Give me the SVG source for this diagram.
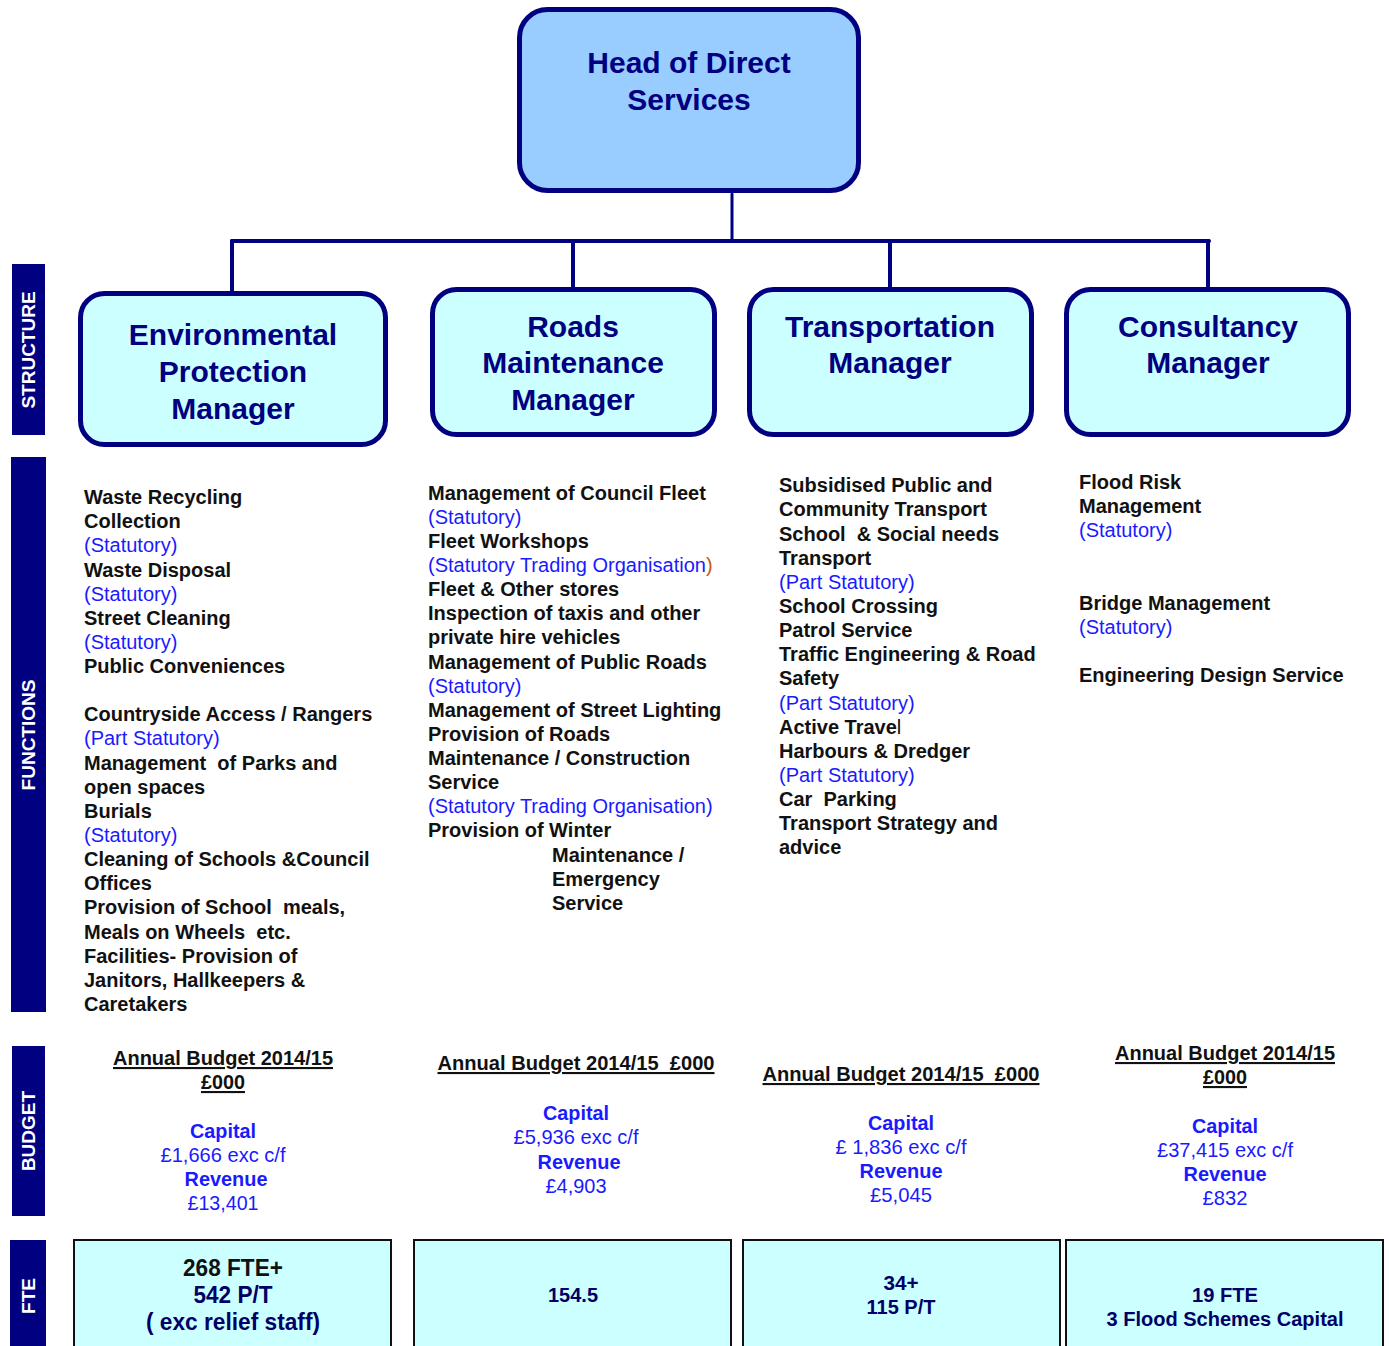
<svg xmlns="http://www.w3.org/2000/svg" width="1389" height="1346" viewBox="0 0 1389 1346">
<style>
.mgr{fill:#ccffff;stroke:#000080;stroke-width:5}
.mt{font-family:"Liberation Sans",Arial,sans-serif;font-weight:bold;font-size:30px;fill:#000080;text-anchor:middle}
.side{fill:#000080}
.st{font-family:"Liberation Sans",Arial,sans-serif;font-weight:bold;font-size:19px;fill:#fff;text-anchor:middle}
.f{font-family:"Liberation Sans",Arial,sans-serif;font-size:20px}
.b{font-weight:bold;fill:#111}
.s{fill:#1a1aff}
.bh{font-family:"Liberation Sans Narrow","Liberation Sans",Arial,sans-serif;font-weight:bold;font-size:21px;fill:#111;text-anchor:middle;text-decoration:underline}
.bc{font-family:"Liberation Sans Narrow","Liberation Sans",Arial,sans-serif;font-weight:bold;font-size:21px;fill:#1a1aff;text-anchor:middle}
.bv{font-family:"Liberation Sans Narrow","Liberation Sans",Arial,sans-serif;font-size:21px;fill:#1a1aff;text-anchor:middle}
.fte{fill:#ccffff;stroke:#111;stroke-width:2}
.ft{font-family:"Liberation Sans Narrow","Liberation Sans",Arial,sans-serif;font-weight:bold;font-size:23px;fill:#000066;text-anchor:middle}
.ln{stroke:#000080;fill:none;stroke-linecap:round}
</style>
<rect width="1389" height="1346" fill="#fff"/>
<g id="connectors">
<line class="ln" x1="732" y1="194" x2="732" y2="241" stroke-width="3"/>
<line class="ln" x1="232" y1="241" x2="1209" y2="241" stroke-width="4"/>
<line class="ln" x1="232" y1="241" x2="232" y2="297" stroke-width="4"/>
<line class="ln" x1="573" y1="241" x2="573" y2="287" stroke-width="4"/>
<line class="ln" x1="890" y1="241" x2="890" y2="287" stroke-width="4"/>
<line class="ln" x1="1208" y1="241" x2="1208" y2="287" stroke-width="4"/>
</g>
<g id="head">
<rect x="519.5" y="9.5" width="339" height="181" rx="28" fill="#99ccff" stroke="#000080" stroke-width="5"/>
<text class="mt" x="689" y="73">Head of Direct</text>
<text class="mt" x="689" y="110">Services</text>
</g>
<g id="env-manager">
<rect class="mgr" x="80.5" y="293.5" width="305" height="151" rx="24"/>
<text class="mt" x="233" y="345">Environmental</text>
<text class="mt" x="233" y="382">Protection</text>
<text class="mt" x="233" y="419">Manager</text>
</g>
<g id="roads-manager">
<rect class="mgr" x="432.5" y="289.5" width="282" height="145" rx="24"/>
<text class="mt" x="573" y="337">Roads</text>
<text class="mt" x="573" y="373">Maintenance</text>
<text class="mt" x="573" y="410">Manager</text>
</g>
<g id="transport-manager">
<rect class="mgr" x="749.5" y="289.5" width="282" height="145" rx="24"/>
<text class="mt" x="890" y="337">Transportation</text>
<text class="mt" x="890" y="373">Manager</text>
</g>
<g id="consultancy-manager">
<rect class="mgr" x="1066.5" y="289.5" width="282" height="145" rx="24"/>
<text class="mt" x="1208" y="337">Consultancy</text>
<text class="mt" x="1208" y="373">Manager</text>
</g>
<g id="side-labels">
<rect class="side" x="12" y="264" width="33" height="171"/>
<text class="st" transform="translate(35,350) rotate(-90)">STRUCTURE</text>
<rect class="side" x="11" y="457" width="35" height="555"/>
<text class="st" transform="translate(35,735) rotate(-90)">FUNCTIONS</text>
<rect class="side" x="12" y="1046" width="33" height="170"/>
<text class="st" transform="translate(35,1131) rotate(-90)">BUDGET</text>
<rect class="side" x="10" y="1240" width="36" height="110"/>
<text class="st" transform="translate(35,1296) rotate(-90)">FTE</text>
</g>
<g id="functions-env" class="f">
<text x="84" y="504" class="b">Waste Recycling</text>
<text x="84" y="528" class="b">Collection</text>
<text x="84" y="552" class="s">(Statutory)</text>
<text x="84" y="577" class="b">Waste Disposal</text>
<text x="84" y="601" class="s">(Statutory)</text>
<text x="84" y="625" class="b">Street Cleaning</text>
<text x="84" y="649" class="s">(Statutory)</text>
<text x="84" y="673" class="b">Public Conveniences</text>
<text x="84" y="721" class="b">Countryside Access / Rangers</text>
<text x="84" y="745" class="s">(Part Statutory)</text>
<text x="84" y="770" class="b" xml:space="preserve">Management  of Parks and</text>
<text x="84" y="794" class="b">open spaces</text>
<text x="84" y="818" class="b">Burials</text>
<text x="84" y="842" class="s">(Statutory)</text>
<text x="84" y="866" class="b">Cleaning of Schools &amp;Council</text>
<text x="84" y="890" class="b">Offices</text>
<text x="84" y="914" class="b" xml:space="preserve">Provision of School  meals,</text>
<text x="84" y="939" class="b" xml:space="preserve">Meals on Wheels  etc.</text>
<text x="84" y="963" class="b">Facilities- Provision of</text>
<text x="84" y="987" class="b">Janitors, Hallkeepers &amp;</text>
<text x="84" y="1011" class="b">Caretakers</text>
</g>
<g id="functions-roads" class="f">
<text x="428" y="500" class="b">Management of Council Fleet</text>
<text x="428" y="524" class="s">(Statutory)</text>
<text x="428" y="548" class="b">Fleet Workshops</text>
<text x="428" y="572" class="s">(Statutory Trading Organisation<tspan fill="#c55a11">)</tspan></text>
<text x="428" y="596" class="b">Fleet &amp; Other stores</text>
<text x="428" y="620" class="b">Inspection of taxis and other</text>
<text x="428" y="644" class="b">private hire vehicles</text>
<text x="428" y="669" class="b">Management of Public Roads</text>
<text x="428" y="693" class="s">(Statutory)</text>
<text x="428" y="717" class="b">Management of Street Lighting</text>
<text x="428" y="741" class="b">Provision of Roads</text>
<text x="428" y="765" class="b">Maintenance / Construction</text>
<text x="428" y="789" class="b">Service</text>
<text x="428" y="813" class="s">(Statutory Trading Organisation)</text>
<text x="428" y="837" class="b">Provision of Winter</text>
<text x="552" y="862" class="b">Maintenance /</text>
<text x="552" y="886" class="b">Emergency</text>
<text x="552" y="910" class="b">Service</text>
</g>
<g id="functions-transport" class="f">
<text x="779" y="492" class="b">Subsidised Public and</text>
<text x="779" y="516" class="b">Community Transport</text>
<text x="779" y="541" class="b" xml:space="preserve">School  &amp; Social needs</text>
<text x="779" y="565" class="b">Transport</text>
<text x="779" y="589" class="s">(Part Statutory)</text>
<text x="779" y="613" class="b">School Crossing</text>
<text x="779" y="637" class="b">Patrol Service</text>
<text x="779" y="661" class="b">Traffic Engineering &amp; Road</text>
<text x="779" y="685" class="b">Safety</text>
<text x="779" y="710" class="s">(Part Statutory)</text>
<text x="779" y="734" class="b">Active Trave<tspan font-weight="normal">l</tspan></text>
<text x="779" y="758" class="b">Harbours &amp; Dredger</text>
<text x="779" y="782" class="s">(Part Statutory)</text>
<text x="779" y="806" class="b" xml:space="preserve">Car  Parking</text>
<text x="779" y="830" class="b">Transport Strategy and</text>
<text x="779" y="854" class="b">advice</text>
</g>
<g id="functions-consultancy" class="f">
<text x="1079" y="489" class="b">Flood Risk</text>
<text x="1079" y="513" class="b">Management</text>
<text x="1079" y="537" class="s">(Statutory)</text>
<text x="1079" y="610" class="b">Bridge Management</text>
<text x="1079" y="634" class="s">(Statutory)</text>
<text x="1079" y="682" class="b">Engineering Design Service</text>
</g>
<g id="budget-env">
<text class="bh" x="223" y="1065" textLength="220" lengthAdjust="spacingAndGlyphs">Annual Budget 2014/15</text>
<text class="bh" x="223" y="1089" textLength="44" lengthAdjust="spacingAndGlyphs">£000</text>
<text class="bc" x="223" y="1138" textLength="66" lengthAdjust="spacingAndGlyphs">Capital</text>
<text class="bv" x="223" y="1162" textLength="125" lengthAdjust="spacingAndGlyphs">£1,666 exc c/f</text>
<text class="bc" x="226" y="1186" textLength="83" lengthAdjust="spacingAndGlyphs">Revenue</text>
<text class="bv" x="223" y="1210" textLength="71" lengthAdjust="spacingAndGlyphs">£13,401</text>
</g>
<g id="budget-roads">
<text class="bh" x="576" y="1070" textLength="277" lengthAdjust="spacingAndGlyphs" xml:space="preserve">Annual Budget 2014/15  £000</text>
<text class="bc" x="576" y="1120" textLength="66" lengthAdjust="spacingAndGlyphs">Capital</text>
<text class="bv" x="576" y="1144" textLength="125" lengthAdjust="spacingAndGlyphs">£5,936 exc c/f</text>
<text class="bc" x="579" y="1169" textLength="83" lengthAdjust="spacingAndGlyphs">Revenue</text>
<text class="bv" x="576" y="1193" textLength="61" lengthAdjust="spacingAndGlyphs">£4,903</text>
</g>
<g id="budget-transport">
<text class="bh" x="901" y="1081" textLength="277" lengthAdjust="spacingAndGlyphs" xml:space="preserve">Annual Budget 2014/15  £000</text>
<text class="bc" x="901" y="1130" textLength="66" lengthAdjust="spacingAndGlyphs">Capital</text>
<text class="bv" x="901" y="1154" textLength="131" lengthAdjust="spacingAndGlyphs">£ 1,836 exc c/f</text>
<text class="bc" x="901" y="1178" textLength="83" lengthAdjust="spacingAndGlyphs">Revenue</text>
<text class="bv" x="901" y="1202" textLength="62" lengthAdjust="spacingAndGlyphs">£5,045</text>
</g>
<g id="budget-consultancy">
<text class="bh" x="1225" y="1060" textLength="220" lengthAdjust="spacingAndGlyphs">Annual Budget 2014/15</text>
<text class="bh" x="1225" y="1084" textLength="44" lengthAdjust="spacingAndGlyphs">£000</text>
<text class="bc" x="1225" y="1133" textLength="66" lengthAdjust="spacingAndGlyphs">Capital</text>
<text class="bv" x="1225" y="1157" textLength="136" lengthAdjust="spacingAndGlyphs">£37,415 exc c/f</text>
<text class="bc" x="1225" y="1181" textLength="83" lengthAdjust="spacingAndGlyphs">Revenue</text>
<text class="bv" x="1225" y="1205" textLength="45" lengthAdjust="spacingAndGlyphs">£832</text>
</g>
<g id="fte-env">
<rect class="fte" x="74" y="1240" width="317" height="120"/>
<text class="ft" x="233" y="1276" fill="#111" style="fill:#111" textLength="100" lengthAdjust="spacingAndGlyphs">268 FTE+</text>
<text class="ft" x="233" y="1303" textLength="79" lengthAdjust="spacingAndGlyphs">542 P/T</text>
<text class="ft" x="233" y="1330" textLength="174" lengthAdjust="spacingAndGlyphs">( exc relief staff)</text>
</g>
<g id="fte-roads">
<rect class="fte" x="414" y="1240" width="317" height="120"/>
<text class="ft" x="573" y="1302" font-size="20" style="font-size:20px" textLength="50" lengthAdjust="spacingAndGlyphs">154.5</text>
</g>
<g id="fte-transport">
<rect class="fte" x="743" y="1240" width="317" height="120"/>
<text class="ft" x="901" y="1290" style="font-size:20px" textLength="35" lengthAdjust="spacingAndGlyphs">34+</text>
<text class="ft" x="901" y="1314" style="font-size:20px" textLength="69" lengthAdjust="spacingAndGlyphs">115 P/T</text>
</g>
<g id="fte-consultancy">
<rect class="fte" x="1066" y="1240" width="317" height="120"/>
<text class="ft" x="1225" y="1302" style="font-size:20px" textLength="66" lengthAdjust="spacingAndGlyphs">19 FTE</text>
<text class="ft" x="1225" y="1326" style="font-size:20px" textLength="237" lengthAdjust="spacingAndGlyphs">3 Flood Schemes Capital</text>
</g>
</svg>
